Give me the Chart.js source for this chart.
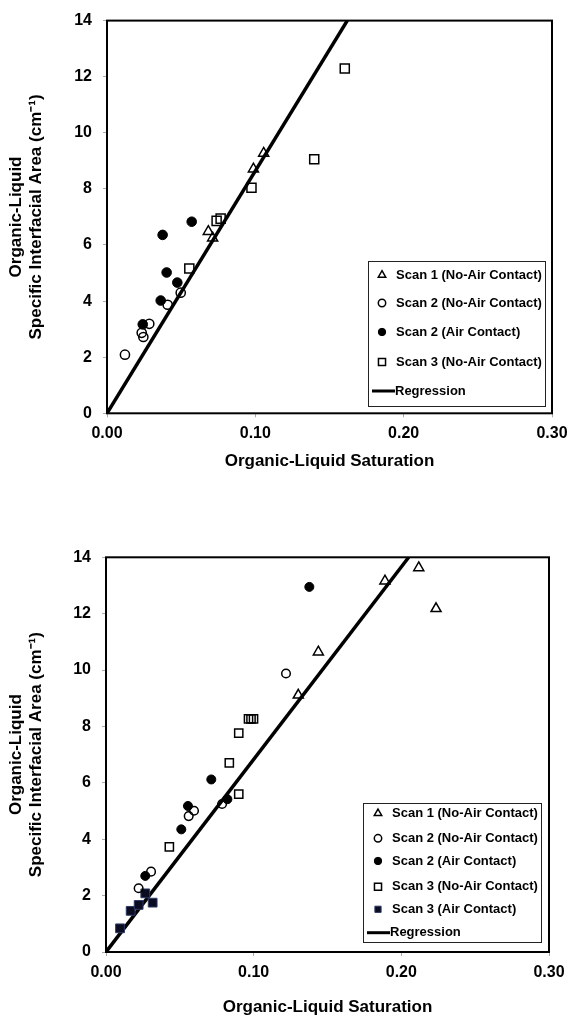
<!DOCTYPE html>
<html><head><meta charset="utf-8">
<script src="https://cdn.jsdelivr.net/npm/chart.js@4/dist/chart.umd.min.js"></script>
<style>
html,body{margin:0;padding:0;background:#fff;}
.wrap{position:absolute;left:0;width:578px;}
</style></head><body>
<div class="wrap" style="top:0;height:520px"><canvas id="c1" width="578" height="520"></canvas></div>
<div class="wrap" style="top:520px;height:506px"><canvas id="c2" width="578" height="506"></canvas></div>
<script>
// ---------- data ----------
const xTickValues = [0, 0.1, 0.2, 0.3];
const yTickValues = [0, 2, 4, 6, 8, 10, 12, 14];
const xTitle = 'Organic-Liquid Saturation';
const yTitle = ['Organic-Liquid', 'Specific Interfacial Area (cm\u207B\u00B9)'];

// top panel
const topScan1X = [0.0683, 0.0712, 0.0987, 0.1056];
const topScan1Y = [6.48, 6.25, 8.71, 9.27];
const topScan2NoAirX = [0.0121, 0.0234, 0.0245, 0.0285, 0.0409, 0.0497];
const topScan2NoAirY = [2.09, 2.87, 2.72, 3.19, 3.87, 4.30];
const topScan2AirX = [0.0241, 0.0362, 0.0375, 0.0402, 0.0474, 0.0571];
const topScan2AirY = [3.17, 4.02, 6.36, 5.02, 4.66, 6.83];
const topScan3NoAirX = [0.0555, 0.0739, 0.0766, 0.0974, 0.1397, 0.1603];
const topScan3NoAirY = [5.16, 6.86, 6.94, 8.04, 9.06, 12.29];
const topRegX = [0, 0.162];
const topRegY = [0, 14];

// bottom panel
const botScan1X = [0.1302, 0.1438, 0.1889, 0.2118, 0.2235];
const botScan1Y = [9.11, 10.64, 13.16, 13.63, 12.18];
const botScan2NoAirX = [0.0221, 0.0305, 0.0560, 0.0596, 0.0786, 0.1219];
const botScan2NoAirY = [2.26, 2.85, 4.82, 5.01, 5.25, 9.88];
const botScan2AirX = [0.0266, 0.0510, 0.0555, 0.0713, 0.0822, 0.1377];
const botScan2AirY = [2.70, 4.35, 5.18, 6.12, 5.42, 12.95];
const botScan3NoAirX = [0.0429, 0.0835, 0.0899, 0.0899, 0.0965, 0.0982, 0.0999];
const botScan3NoAirY = [3.73, 6.71, 5.60, 7.76, 8.27, 8.27, 8.27];
const botScan3AirX = [0.0095, 0.0167, 0.0221, 0.0266, 0.0316];
const botScan3AirY = [0.84, 1.46, 1.67, 2.08, 1.75];
const botRegX = [0, 0.205];
const botRegY = [0, 14];

// ---------- helpers ----------
const FONT = '"Liberation Sans", Arial, Helvetica, sans-serif';
const pts = (xs, ys) => xs.map((x, i) => ({x, y: ys[i]}));
const LEGEND_R = {triangle: 4.3, circle: 3.7, rect: 5.0};

function markerSet(label, xs, ys, style, radius, filled, fill) {
  return {
    type: 'scatter', label, data: pts(xs, ys),
    pointStyle: style, pointRadius: radius, pointHoverRadius: radius,
    pointBackgroundColor: filled ? (fill || '#000') : 'rgba(255,255,255,0)',
    pointBorderColor: filled && fill ? '#2e3b66' : '#000',
    pointBorderWidth: filled ? 1 : 1.5,
    order: 1,
    legendRadius: fill ? 4.4 : LEGEND_R[style]
  };
}
function regSet(xs, ys) {
  return {
    type: 'line', label: 'Regression', data: pts(xs, ys),
    borderColor: '#000', borderWidth: 3.5, pointRadius: 0, fill: false,
    order: 10, isLine: true
  };
}

const framePlugin = {
  id: 'frameLegend',
  beforeDatasetsDraw(chart) {
    const {ctx, chartArea: a} = chart;
    ctx.save();
    ctx.strokeStyle = '#000'; ctx.lineWidth = 2;
    ctx.strokeRect(a.left, a.top, a.right - a.left, a.bottom - a.top);
    ctx.restore();
  },
  afterDatasetsDraw(chart, args, o) {
    const ctx = chart.ctx;
    ctx.save();
    const [x1, y1, x2, y2] = o.box;
    ctx.fillStyle = '#fff';
    ctx.fillRect(x1, y1, x2 - x1, y2 - y1);
    ctx.strokeStyle = '#222'; ctx.lineWidth = 1;
    ctx.strokeRect(x1 + 0.5, y1 + 0.5, x2 - x1, y2 - y1);
    ctx.font = 'bold 13px ' + FONT;
    ctx.textBaseline = 'middle';
    ctx.textAlign = 'left';
    chart.data.datasets.forEach((ds, i) => {
      const y = o.rows[i];
      if (ds.isLine) {
        ctx.strokeStyle = '#000'; ctx.lineWidth = 3;
        ctx.beginPath(); ctx.moveTo(o.lineX[0], y); ctx.lineTo(o.lineX[1], y); ctx.stroke();
      } else {
        ctx.fillStyle = ds.pointBackgroundColor;
        ctx.strokeStyle = ds.pointBorderColor;
        ctx.lineWidth = ds.pointBorderWidth;
        Chart.helpers.drawPoint(ctx, {pointStyle: ds.pointStyle, radius: ds.legendRadius, rotation: 0, borderWidth: ds.pointBorderWidth}, o.markerX, y);
      }
      ctx.fillStyle = '#000';
      ctx.fillText(ds.label, ds.isLine ? o.lineX[1] : o.textX, y);
    });
    ctx.restore();
  }
};

function makeChart(id, datasets, L) {
  const tickFont = {family: FONT, size: 16, weight: 'bold'};
  const titleFont = {family: FONT, size: 17, weight: 'bold', lineHeight: 20 / 17};
  return new Chart(document.getElementById(id), {
    data: {datasets},
    plugins: [framePlugin],
    options: {
      responsive: false, animation: false,
      layout: {padding: {top: L.padTop, right: L.padRight, left: 0, bottom: 0}},
      plugins: {
        legend: {display: false}, tooltip: {enabled: false},
        frameLegend: L.legend
      },
      scales: {
        x: {
          type: 'linear', min: 0, max: 0.3,
          afterBuildTicks: s => { s.ticks = xTickValues.map(v => ({value: v})); },
          ticks: {font: tickFont, color: '#000', padding: 7, maxRotation: 0,
                  callback: v => Number(v).toFixed(2)},
          grid: {display: true, drawOnChartArea: false, drawTicks: true, tickLength: 4, color: '#aaa'},
          border: {display: false},
          title: {display: true, text: xTitle, font: titleFont, color: '#000', padding: {top: 0, bottom: L.xTitlePadBottom}},
          afterFit: s => { s.height = L.xHeight; }
        },
        y: {
          type: 'linear', min: 0, max: 14,
          afterBuildTicks: s => { s.ticks = yTickValues.map(v => ({value: v})); },
          ticks: {font: tickFont, color: '#000', padding: 11},
          grid: {display: true, drawOnChartArea: false, drawTicks: true, tickLength: 4, color: '#aaa'},
          border: {display: false},
          title: {display: true, text: yTitle, font: titleFont, color: '#000', padding: {top: 6, bottom: 0}},
          afterFit: s => { s.width = L.yWidth; }
        }
      }
    }
  });
}

makeChart('c1', [
  markerSet('Scan 1 (No-Air Contact)', topScan1X, topScan1Y, 'triangle', 5.8, false),
  markerSet('Scan 2 (No-Air Contact)', topScan2NoAirX, topScan2NoAirY, 'circle', 4.6, false),
  markerSet('Scan 2 (Air Contact)', topScan2AirX, topScan2AirY, 'circle', 4.8, true),
  markerSet('Scan 3 (No-Air Contact)', topScan3NoAirX, topScan3NoAirY, 'rect', 6.4, false),
  regSet(topRegX, topRegY)
], {
  padTop: 15.5, padRight: 26, yWidth: 107, xHeight: 106.7, xTitlePadBottom: 48.3,
  legend: {box: [368, 261, 545, 406], rows: [275, 303, 332, 362, 391], markerX: 382, textX: 396, lineX: [372, 395]}
});

makeChart('c2', [
  markerSet('Scan 1 (No-Air Contact)', botScan1X, botScan1Y, 'triangle', 5.8, false),
  markerSet('Scan 2 (No-Air Contact)', botScan2NoAirX, botScan2NoAirY, 'circle', 4.3, false),
  markerSet('Scan 2 (Air Contact)', botScan2AirX, botScan2AirY, 'circle', 4.5, true),
  markerSet('Scan 3 (No-Air Contact)', botScan3NoAirX, botScan3NoAirY, 'rect', 5.8, false),
  markerSet('Scan 3 (Air Contact)', botScan3AirX, botScan3AirY, 'rect', 6.2, true, '#0b0b22'),
  regSet(botRegX, botRegY)
], {
  padTop: 37.3, padRight: 29, yWidth: 106, xHeight: 74, xTitlePadBottom: 8.7,
  legend: {box: [363, 283, 541, 422], rows: [293.3, 318.3, 341, 366.7, 389.3, 412.7], markerX: 378, textX: 392, lineX: [367, 390]}
});
</script>
</body></html>
